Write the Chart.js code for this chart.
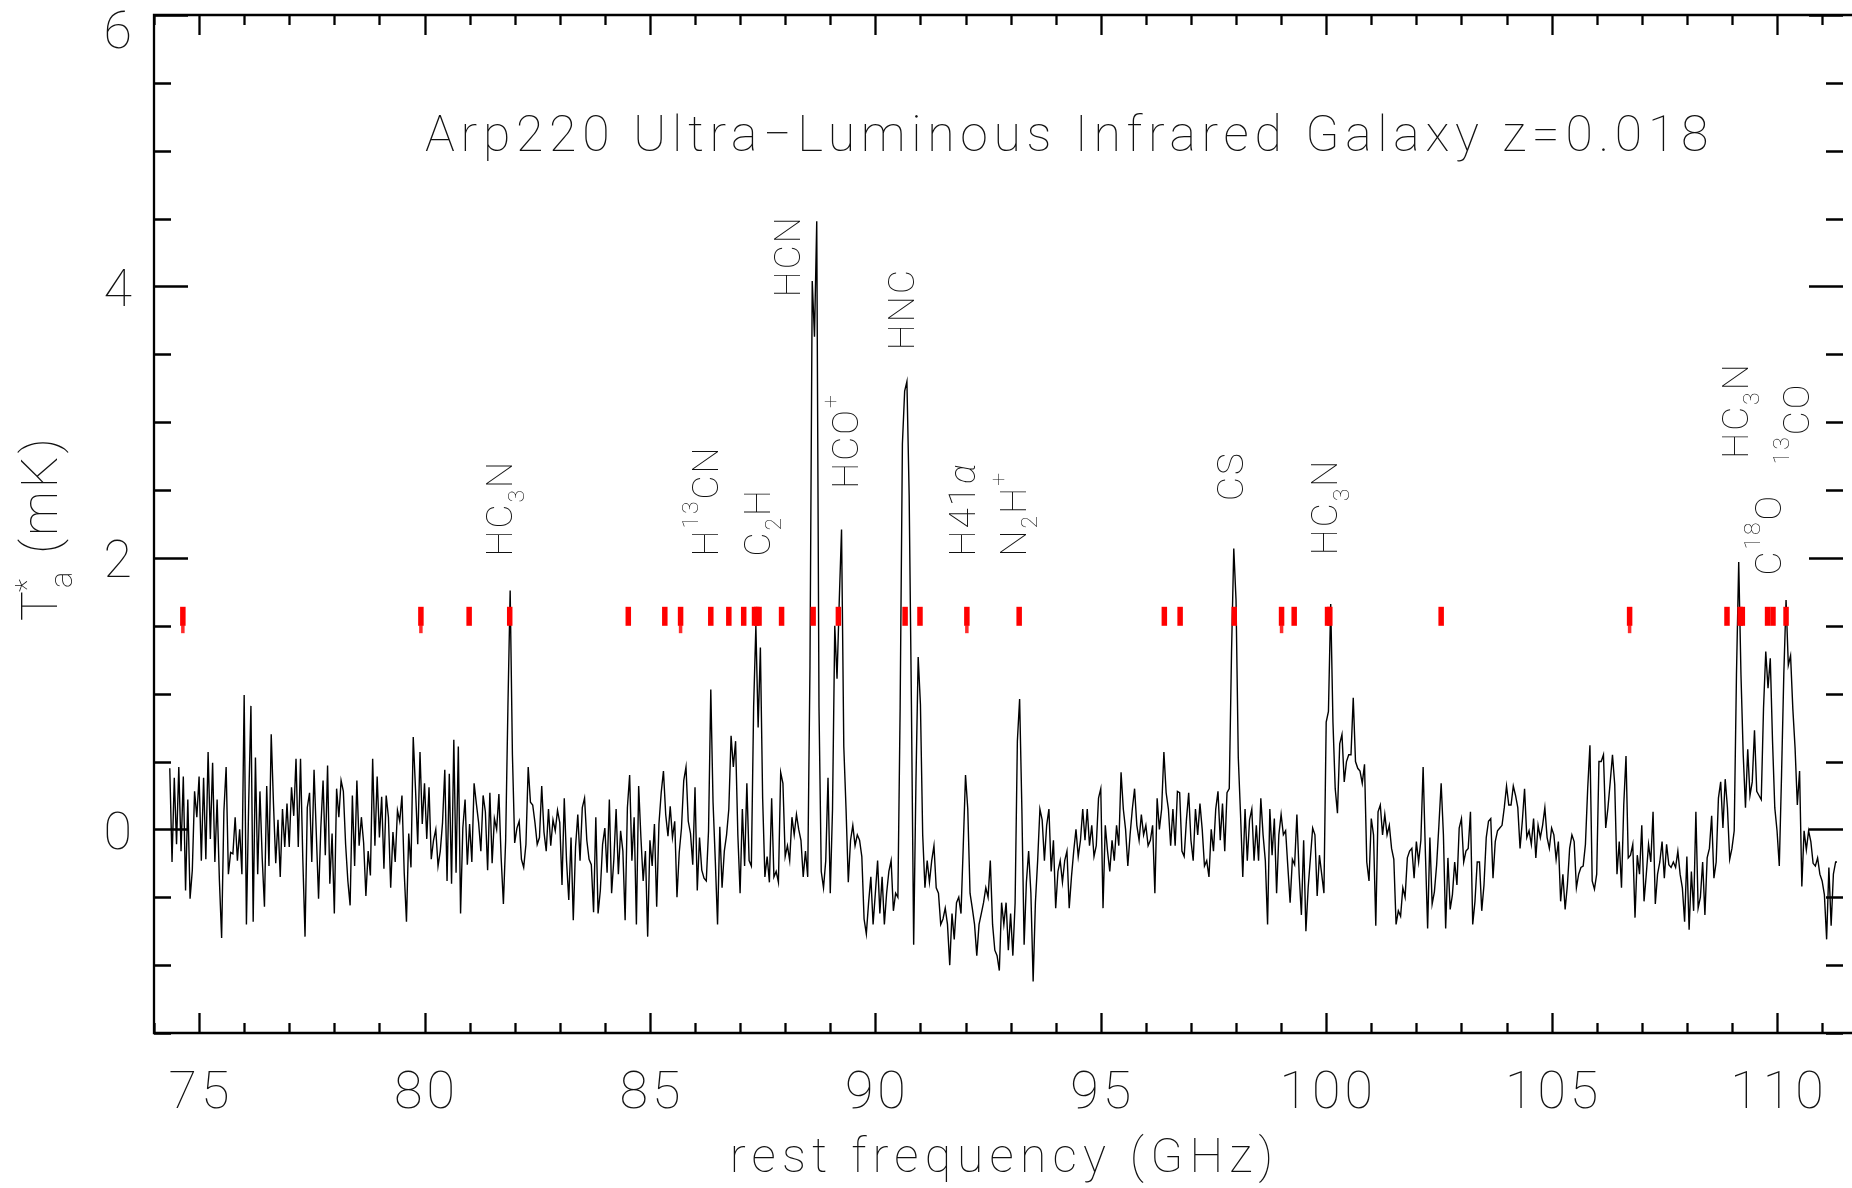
<!DOCTYPE html>
<html>
<head>
<meta charset="utf-8">
<title>Arp220 spectrum</title>
<script src="https://cdn.jsdelivr.net/npm/chart.js@4.4.1/dist/chart.umd.min.js"></script>
<style>
  html, body { margin: 0; padding: 0; background: #fff; overflow: hidden; }
  canvas { display: block; }
</style>
</head>
<body>
<canvas id="spec" width="1852" height="1188"></canvas>
<script>
// spectrum channels: first channel and spacing in GHz
const freqStart = 74.35;
const freqStep = 0.05;

// antenna temperature T*a (mK), one value per channel
const taValues = [
  .45,-.24,.38,-.11,.46,-.16,.39,-.45,.22,-.51,
  -.30,.28,.09,.39,-.23,.38,-.22,.57,-.07,.49,
  -.24,.22,-.37,-.80,.13,.46,-.33,-.17,-.18,.09,
  -.23,0,-.33,.99,-.70,.19,.91,-.68,.53,-.33,
  .28,-.21,-.57,.32,-.27,.70,.19,-.25,.07,-.35,
  .15,-.13,.19,-.13,.31,.10,.52,-.13,.52,-.21,
  -.79,.16,.27,-.24,.44,-.03,-.51,.01,.36,-.19,
  .47,-.40,-.03,-.62,.30,.09,.36,.28,-.11,-.38,
  -.56,.25,-.27,.36,-.12,.09,-.10,-.49,-.16,-.34,
  .52,-.12,.39,-.06,.24,-.29,.25,.09,-.43,-.02,
  -.24,.14,.06,.25,-.32,-.68,-.03,-.28,.68,.30,
  -.11,.57,.04,.34,-.07,.31,-.22,-.08,0,-.27,
  -.16,.05,.44,-.38,.41,-.40,.66,-.32,.61,-.62,
  .01,.22,-.26,.04,-.24,.34,.19,.05,-.16,.25,
  .13,-.30,.27,-.25,.08,0,.26,-.21,-.55,-.08,
  .90,1.76,.55,-.10,.01,.06,-.22,-.28,-.11,.46,
  .20,.18,.05,-.11,-.06,.32,-.02,-.16,.15,-.12,
  .07,-.01,.14,.05,-.41,.23,-.23,-.52,-.06,-.67,
  -.13,.11,-.23,.16,.23,-.08,-.22,-.26,-.61,.09,
  -.62,-.45,-.11,.01,-.32,.22,-.47,-.22,.15,-.33,
  -.01,-.16,-.67,.16,.40,-.23,.09,-.70,.32,-.06,
  -.38,-.16,-.79,-.08,-.27,.04,-.57,.04,.27,.43,
  .11,-.05,.17,-.06,.06,-.50,-.17,.01,.36,.46,
  .06,-.03,-.26,.31,-.45,-.06,-.30,-.36,-.38,-.01,
  1.03,.20,-.23,-.70,.02,-.43,-.16,-.04,.15,.69,
  .46,.65,-.04,-.47,.15,-.27,.34,-.23,-.27,.90,
  1.50,.75,1.34,.23,-.35,-.20,-.39,.23,-.35,-.31,
  -.39,.42,.34,-.20,-.12,-.23,.09,-.04,.11,0,
  -.08,-.35,-.16,-.35,1.20,4.04,3.63,4.48,.90,-.31,
  -.43,-.23,.38,-.47,.15,1.50,1.11,1.69,2.21,.61,
  .15,-.39,-.08,.03,-.12,-.04,-.08,-.20,-.66,-.77,
  -.54,-.35,-.70,-.47,-.23,-.62,-.35,-.70,-.47,-.31,
  -.23,-.60,-.47,-.50,.90,2.84,3.23,3.30,2.46,.92,
  -.85,.34,1.27,.92,-.04,-.43,-.23,-.39,-.23,-.12,
  -.43,-.47,-.70,-.66,-.58,-.70,-1.00,-.62,-.81,-.54,
  -.50,-.62,-.12,.40,.15,-.47,-.58,-.70,-.93,-.70,
  -.62,-.54,-.43,-.50,-.23,-.70,-.89,-.93,-1.04,-.54,
  -.70,-.54,-.89,-.62,-.93,-.54,.65,.96,.15,-.85,
  -.39,-.16,-.47,-1.12,-.54,-.23,.15,.07,-.23,.03,
  .15,-.31,-.08,-.58,-.31,-.23,-.39,-.23,-.16,-.58,
  -.35,-.16,0,-.20,-.08,.15,-.08,.15,-.12,.03,
  -.20,-.12,.23,.30,-.58,.03,-.16,-.31,-.08,-.23,
  .03,-.12,.42,.15,0,-.27,-.04,.15,.30,.03,
  -.08,.11,-.04,.03,-.12,-.08,.03,-.47,.23,0,
  .15,.57,.27,.15,-.12,.15,-.12,.28,.27,-.16,
  -.20,.07,.27,-.08,-.23,.15,-.04,.19,0,-.27,
  -.23,-.35,0,-.16,.15,.28,-.08,.19,-.16,.27,
  .30,1.30,2.07,1.69,.53,.11,-.35,.15,-.23,.07,
  .15,-.23,.03,-.23,.23,-.04,-.23,-.70,.15,
  -.19,.08,-.47,-.04,.11,-.04,-.01,-.28,-.54,-.22,
  -.26,.11,-.33,-.63,-.08,-.75,-.43,-.21,.01,-.04,
  -.49,-.19,-.33,-.47,.79,.87,1.66,.79,.30,.12,
  .63,.70,.35,.50,.55,.55,.97,.50,.45,.43,
  .34,.48,-.24,-.38,.08,-.04,-.71,.13,.18,-.04,
  .11,-.04,.03,-.14,-.22,-.70,-.60,-.64,-.43,-.50,
  -.21,-.16,-.14,-.36,-.09,-.24,-.08,.46,-.17,-.73,
  -.06,-.55,-.46,-.26,.03,.34,-.04,-.73,-.21,-.59,
  -.48,-.24,-.41,.01,.08,-.24,-.16,-.14,.13,-.70,
  -.53,-.24,-.24,-.60,-.41,-.06,.06,.08,-.36,-.09,
  -.01,.01,.03,.16,.32,.18,.18,.32,.25,.16,
  -.14,.06,.30,-.06,-.01,-.11,.08,-.21,.03,-.06,
  .03,.16,-.06,-.14,.01,-.04,-.22,-.09,-.53,-.33,
  -.59,-.41,-.14,-.04,-.09,-.43,-.33,-.28,-.27,-.11,
  .30,.62,-.38,-.44,-.33,.50,.50,.55,.01,.16,
  .35,.55,.33,-.33,-.09,-.43,.18,.54,-.21,-.19,
  -.11,-.65,-.19,-.33,.03,-.53,-.33,-.11,-.24,.13,
  -.55,-.33,-.24,-.09,-.36,-.11,-.26,-.28,-.24,-.28,
  -.16,-.33,-.43,-.68,-.20,-.74,-.31,-.60,.13,-.58,
  -.50,-.24,-.63,-.21,-.14,.10,-.36,-.24,.23,.35,
  .01,.37,.16,-.22,-.14,-.01,1.14,1.97,1.14,.55,
  .16,.59,.25,.35,.73,.28,.25,.22,.89,1.31,
  1.04,1.26,.65,.16,-.01,-.27,.40,1.14,1.69,1.21,
  1.28,.89,.60,.18,.43,-.42,-.01,-.15,-.01,-.09,
  -.25,-.27,-.21,-.33,-.38,-.48,-.81,-.28,-.71,-.33,
  -.24,-.24
];

// red tick marks: catalogue line frequencies (GHz)
const lineMarks = [74.64, 79.92, 80.99, 81.89, 84.52, 85.33, 85.68, 86.35, 86.75, 87.08,
  87.32, 87.37, 87.42, 87.92, 88.62, 89.18, 90.66, 90.99, 92.03, 93.19, 96.41, 96.76,
  97.96, 99.01, 99.29, 100.03, 100.08, 102.55, 106.73, 108.89, 109.18, 109.23, 109.79,
  109.91, 110.20];
const doubledMarks = [74.64, 79.92, 85.68, 92.03, 99.01, 106.73];
const markLevel = 1.57;
const markLow = 1.475;

// molecule labels: text, frequency and T*a where the text starts
const labelText = ['HC_3N', 'H^{13}CN', 'C_2H', 'HCN', 'HCO^+', 'HNC', 'H41α', 'N_2H^+',
  'CS', 'HC_3N', 'HC_3N', 'C^{18}O', '^{13}CO'];
const labelFreq = [81.95, 86.52, 87.67, 88.32, 89.62, 90.86, 92.22, 93.34, 98.16, 100.25,
  109.35, 110.08, 110.72];
const labelTa = [2.01, 2.01, 2.01, 3.92, 2.51, 3.53, 2.01, 2.01, 2.42, 2.02, 2.73, 1.87, 2.69];

const xTickLabels = [75, 80, 85, 90, 95, 100, 105, 110];
const yTickLabels = [0, 2, 4, 6];

const titleText = 'Arp220 Ultra\u2212Luminous Infrared Galaxy z=0.018';
const xTitle = 'rest frequency (GHz)';

const FONT = 'Roboto, "Open Sans", sans-serif';
const W = '100';
const INK = '#111';

const spectrum = taValues.map((t, i) => ({ x: freqStart + i * freqStep, y: t }));

function parseRich(s) {
  const parts = [];
  let i = 0;
  while (i < s.length) {
    const c = s[i];
    if (c === '_' || c === '^') {
      let t;
      if (s[i + 1] === '{') {
        const j = s.indexOf('}', i);
        t = s.slice(i + 2, j);
        i = j + 1;
      } else {
        t = s[i + 1];
        i += 2;
      }
      parts.push({ t, shift: c === '_' ? 1 : -1 });
    } else if (c === 'α') {
      parts.push({ t: c, shift: 0, italic: true });
      i++;
    } else {
      const last = parts[parts.length - 1];
      if (last && last.shift === 0 && !last.italic) last.t += c;
      else parts.push({ t: c, shift: 0 });
      i++;
    }
  }
  return parts;
}

// draws text along +x of the current transform, baseline at y = 0
function drawRich(ctx, s, size) {
  let pos = 0;
  for (const p of parseRich(s)) {
    const fs = p.shift ? size * 0.62 : size;
    ctx.font = (p.italic ? 'italic ' : '') + W + ' ' + fs + 'px ' + FONT;
    const dy = p.shift === 1 ? size * 0.3 : p.shift === -1 ? -size * 0.55 : 0;
    ctx.fillText(p.t, pos, dy);
    pos += ctx.measureText(p.t).width;
  }
}

const frame = {
  id: 'frame',
  afterDatasetsDraw(chart) {
    const { ctx, chartArea: a, scales: { x, y } } = chart;
    const rightAxis = a.right + 6; // the right axis falls just outside the picture
    ctx.save();

    // box (left, top, bottom) and inward ticks
    ctx.strokeStyle = '#000';
    ctx.lineWidth = 2.3;
    ctx.beginPath();
    ctx.moveTo(chart.width, a.top); ctx.lineTo(a.left, a.top);
    ctx.lineTo(a.left, a.bottom); ctx.lineTo(chart.width, a.bottom);
    ctx.stroke();
    ctx.beginPath();
    for (let v = Math.ceil(x.min); v <= x.max; v++) {
      const px = Math.round(x.getPixelForValue(v)) + 0.5;
      const len = v % 5 === 0 ? 20 : 10;
      ctx.moveTo(px, a.bottom); ctx.lineTo(px, a.bottom - len);
      ctx.moveTo(px, a.top); ctx.lineTo(px, a.top + len);
    }
    for (let v = y.min; v <= y.max + 1e-6; v += 0.5) {
      const py = Math.round(y.getPixelForValue(v)) + 0.5;
      const len = Math.abs(v % 2) < 1e-6 ? 34 : 17;
      ctx.moveTo(a.left, py); ctx.lineTo(a.left + len, py);
      ctx.moveTo(rightAxis, py); ctx.lineTo(rightAxis - len, py);
    }
    ctx.stroke();

    ctx.fillStyle = INK;
    ctx.textBaseline = 'alphabetic';

    // tick labels
    ctx.font = W + ' 52px ' + FONT;
    ctx.textAlign = 'center';
    ctx.letterSpacing = '4px';
    xTickLabels.forEach(v => {
      ctx.fillText(String(v), x.getPixelForValue(v) + 2, a.bottom + 75);
    });
    ctx.textAlign = 'right';
    yTickLabels.forEach(v => {
      const py = Math.max(y.getPixelForValue(v), a.top + 13);
      ctx.fillText(String(v), a.left - 18, py + 19.5);
    });

    // title inside the frame
    ctx.textAlign = 'left';
    ctx.font = W + ' 50px ' + FONT;
    ctx.letterSpacing = '5.7px';
    ctx.fillText(titleText, a.left + 271, a.top + 136);

    // x axis title
    ctx.textAlign = 'center';
    ctx.font = W + ' 48px ' + FONT;
    ctx.letterSpacing = '6.2px';
    ctx.fillText(xTitle, (a.left + rightAxis) / 2 + 6, a.bottom + 139);

    // y axis title, rotated
    ctx.textAlign = 'left';
    ctx.letterSpacing = '3px';
    ctx.save();
    ctx.translate(a.left - 97, a.top + 606);
    ctx.rotate(-Math.PI / 2);
    ctx.font = W + ' 50px ' + FONT;
    ctx.fillText('T', 0, 0);
    let pos = ctx.measureText('T').width;
    ctx.font = W + ' 31px ' + FONT;
    ctx.fillText('*', pos - 4, -20);
    ctx.fillText('a', pos, 15);
    pos += ctx.measureText('a').width;
    ctx.font = W + ' 50px ' + FONT;
    ctx.fillText(' (mK)', pos, 0);
    ctx.restore();

    // molecule labels
    ctx.letterSpacing = '2px';
    labelText.forEach((s, k) => {
      ctx.save();
      ctx.translate(x.getPixelForValue(labelFreq[k]), y.getPixelForValue(labelTa[k]));
      ctx.rotate(-Math.PI / 2);
      drawRich(ctx, s, 37);
      ctx.restore();
    });

    ctx.restore();
  }
};

new Chart(document.getElementById('spec'), {
  type: 'line',
  data: {
    datasets: [
      {
        type: 'scatter',
        data: lineMarks.map(f => ({ x: f, y: markLevel })),
        pointStyle: 'line',
        rotation: 90,
        pointRadius: 9.5,
        pointBorderWidth: 5.5,
        pointBorderColor: '#ff0000',
        pointBackgroundColor: '#ff0000',
        showLine: false,
        order: 0
      },
      {
        type: 'scatter',
        data: doubledMarks.map(f => ({ x: f, y: markLow })),
        pointStyle: 'line',
        rotation: 90,
        pointRadius: 4,
        pointBorderWidth: 3.5,
        pointBorderColor: '#ff2a2a',
        showLine: false,
        order: 0
      },
      {
        data: spectrum,
        borderColor: '#000',
        borderWidth: 1.4,
        pointRadius: 0,
        tension: 0,
        fill: false,
        order: 1
      }
    ]
  },
  options: {
    responsive: false,
    animation: false,
    devicePixelRatio: 1,
    events: [],
    layout: { padding: { left: 154, top: 12, right: 1, bottom: 155 } },
    scales: {
      x: { type: 'linear', min: 74, max: 111.33, display: false },
      y: { min: -1.5, max: 6, display: false }
    },
    plugins: { legend: { display: false }, tooltip: { enabled: false } }
  },
  plugins: [frame]
});
</script>
</body>
</html>
